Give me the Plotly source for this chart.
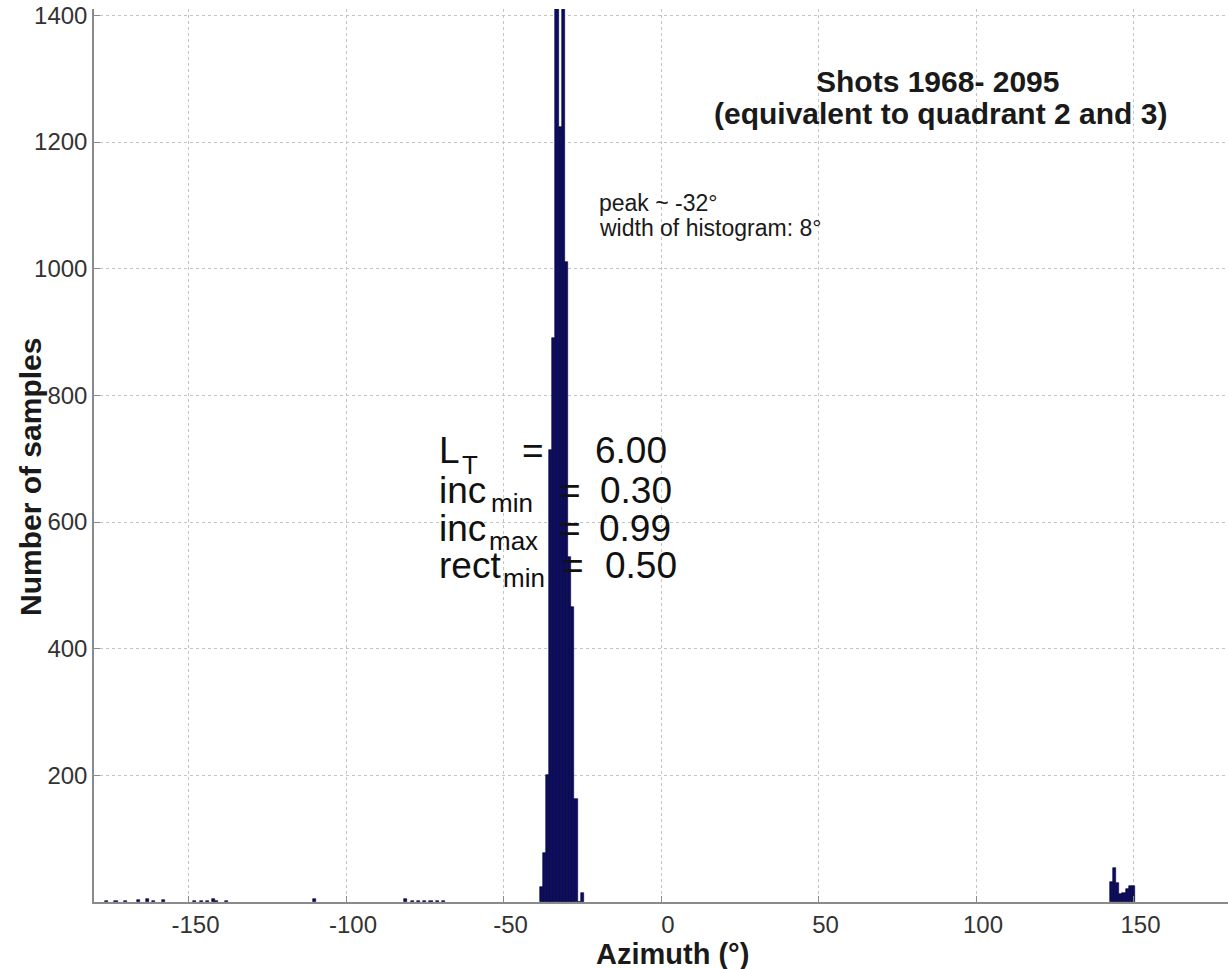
import plotly.graph_objects as go

# ---------------- data ----------------
peak_bins = [-38, -37, -36, -35, -34, -33, -32, -31, -30, -29, -28, -27, -26, -25]
peak_counts = [23, 78, 200, 713, 891, 1530, 1224, 1480, 1011, 545, 466, 162, 0, 15]

east_bins = [143, 144, 145, 146, 147, 148, 149, 150]
east_counts = [32, 53, 30, 13, 14, 21, 26, 26]

minor_bins = [-176, -173, -170, -166, -163, -161, -158, -148, -146, -144, -142, -141,
              -138, -110, -81, -79, -77, -75, -73, -71, -69]
minor_counts = [1, 1, 1, 3, 4, 1, 3, 1, 1, 2, 4, 2, 1, 4, 5, 2, 2, 1, 1, 1, 1]

x_ticks = [-150, -100, -50, 0, 50, 100, 150]
y_ticks = [200, 400, 600, 800, 1000, 1200, 1400]

title_lines = ["Shots 1968- 2095", "(equivalent to quadrant 2 and 3)"]
note_lines = ["peak ~ -32°", "width of histogram: 8°"]
param_names = ["L", "inc", "inc", "rect"]
param_subs = ["T", "min", "max", "min"]
param_values = ["6.00", "0.30", "0.99", "0.50"]

# ---------------- layout geometry ----------------
W, H = 1228, 969
ML, MR, MT, MB = 94, 0, 9, 67
PW, PH = W - ML - MR, H - MT - MB
FONT = "Liberation Sans, Arial, sans-serif"


def px(xp):
    return (xp - ML) / PW


def py(yp):
    return (H - MB - yp) / PH


bins = minor_bins + peak_bins + east_bins
counts = minor_counts + peak_counts + east_counts

fig = go.Figure()
fig.add_trace(go.Bar(
    x=bins, y=counts, width=1.0,
    marker=dict(color="#0c0c64", line=dict(color="#03032e", width=0.6)),
    showlegend=False, hoverinfo="x+y",
))

ann = []
# title
ann.append(dict(text="<b>%s</b>" % title_lines[0], x=px(937), y=py(81), xref="paper", yref="paper",
                showarrow=False, xanchor="center", yanchor="middle",
                font=dict(family=FONT, size=30, color="#1a1a1a")))
ann.append(dict(text="<b>%s</b>" % title_lines[1], x=px(940), y=py(114), xref="paper", yref="paper",
                showarrow=False, xanchor="center", yanchor="middle",
                font=dict(family=FONT, size=30, color="#1a1a1a")))
# note
for line, yc in zip(note_lines, [203, 228]):
    ann.append(dict(text=line, x=px(597), y=py(yc), xref="paper", yref="paper",
                    showarrow=False, xanchor="left", yanchor="middle",
                    font=dict(family=FONT, size=23, color="#1a1a1a")))
# parameter block
name_x = [437, 437, 437, 437]
name_y = [451, 490, 528, 565]
sub_x = [460, 489, 487, 501]
sub_y = [465, 503, 541, 578]
eq_x = [520, 557, 557, 560]
val_x = [593, 598, 597, 603]
for i in range(4):
    ann.append(dict(text=param_names[i], x=px(name_x[i]), y=py(name_y[i]), xref="paper", yref="paper",
                    showarrow=False, xanchor="left", yanchor="middle",
                    font=dict(family=FONT, size=37, color="#111111")))
    ann.append(dict(text=param_subs[i], x=px(sub_x[i]), y=py(sub_y[i]), xref="paper", yref="paper",
                    showarrow=False, xanchor="left", yanchor="middle",
                    font=dict(family=FONT, size=26, color="#111111")))
    ann.append(dict(text="=", x=px(eq_x[i]), y=py(name_y[i]), xref="paper", yref="paper",
                    showarrow=False, xanchor="left", yanchor="middle",
                    font=dict(family=FONT, size=37, color="#111111")))
    ann.append(dict(text=param_values[i], x=px(val_x[i]), y=py(name_y[i]), xref="paper", yref="paper",
                    showarrow=False, xanchor="left", yanchor="middle",
                    font=dict(family=FONT, size=37, color="#111111")))
# axis titles
ann.append(dict(text="<b>Azimuth (°)</b>", x=px(672), y=py(954), xref="paper", yref="paper",
                showarrow=False, xanchor="center", yanchor="middle",
                font=dict(family=FONT, size=29, color="#1a1a1a")))
ann.append(dict(text="<b>Number of samples</b>", x=px(30), y=py(477), xref="paper", yref="paper",
                showarrow=False, xanchor="center", yanchor="middle", textangle=-90,
                font=dict(family=FONT, size=30, color="#1a1a1a")))

fig.update_layout(
    width=W, height=H,
    margin=dict(l=ML, r=MR, t=MT, b=MB, pad=0),
    paper_bgcolor="white", plot_bgcolor="white",
    annotations=ann,
    bargap=0,
    font=dict(family=FONT, size=24, color="#333333"),
)
fig.update_xaxes(
    range=[-180, 180], tickvals=x_ticks, ticktext=[str(v) for v in x_ticks],
    showgrid=True, gridcolor="#c4c4c4", griddash="dot", gridwidth=1,
    showline=True, linecolor="#8a8a8a", linewidth=1.5,
    ticks="inside", ticklen=6, tickcolor="#8a8a8a",
    tickfont=dict(family=FONT, size=24, color="#333333"),
    ticklabelshift=7, zeroline=False,
)
fig.update_yaxes(
    range=[0, 1410], tickvals=y_ticks, ticktext=[str(v) for v in y_ticks],
    showgrid=True, gridcolor="#c4c4c4", griddash="dot", gridwidth=1,
    showline=True, linecolor="#8a8a8a", linewidth=1.5,
    ticks="inside", ticklen=6, tickcolor="#8a8a8a",
    tickfont=dict(family=FONT, size=24, color="#333333"),
    zeroline=False,
)

fig.write_html("out.html")
